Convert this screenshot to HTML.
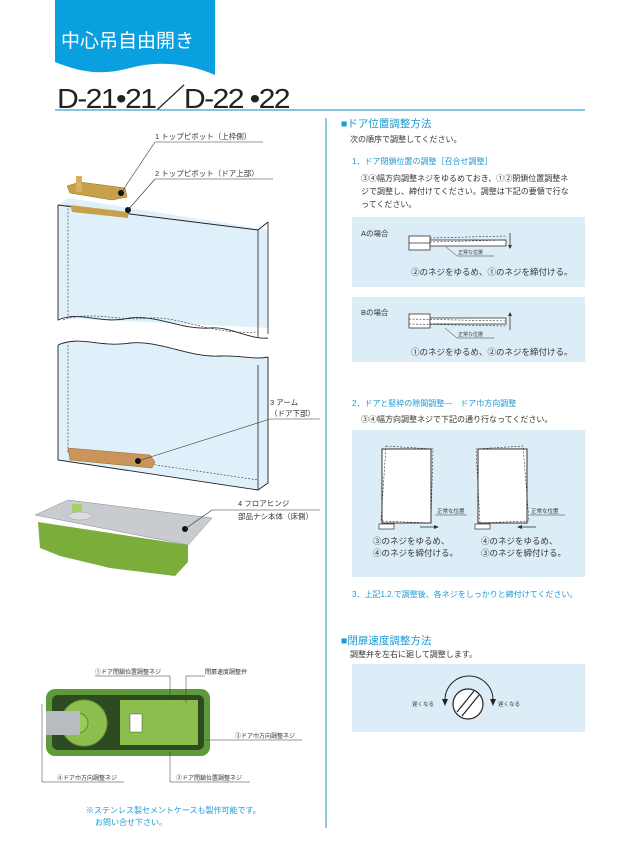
<!DOCTYPE html>
<html><head><meta charset="utf-8"><style>
html,body{margin:0;padding:0;background:#fff;}
svg{display:block;}
text{font-family:"Liberation Sans","Noto Sans CJK JP",sans-serif;}
</style></head><body>
<svg width="629" height="844" viewBox="0 0 629 844" xmlns="http://www.w3.org/2000/svg">
<!-- header tab -->
<path d="M55 0 H215 V75 C190 64 160 60 130 68 C100 76 80 72 55 62 Z" fill="#0aa0e0"/>
<text x="61" y="47" font-size="19" fill="#fff">中心吊自由開き</text>
<text x="57" y="108" font-size="28" fill="#222" letter-spacing="-1.5" textLength="232" lengthAdjust="spacingAndGlyphs">D-21•21／D-22 •22</text>
<line x1="55" y1="110" x2="585" y2="110" stroke="#3aa0c8" stroke-width="1.2"/>
<line x1="326" y1="118" x2="326" y2="828" stroke="#8cc8e0" stroke-width="2"/>

<!-- right column -->
<text x="341" y="127" font-size="10.5" fill="#1a9ad6">■ドア位置調整方法</text>
<text x="350" y="142" font-size="8" fill="#333">次の順序で調整してください。</text>
<text x="352" y="164" font-size="8" fill="#1a9ad6">1．ドア閉鎖位置の調整［召合せ調整］</text>
<text x="361" y="181" font-size="8" fill="#333">③④幅方向調整ネジをゆるめておき、①②閉鎖位置調整ネ</text>
<text x="361" y="194" font-size="8" fill="#333">ジで調整し、締付けてください。調整は下記の要領で行な</text>
<text x="361" y="207" font-size="8" fill="#333">ってください。</text>

<rect x="352" y="217" width="233" height="70" fill="#dcedf8"/>
<text x="361" y="236" font-size="7.5" fill="#333">Aの場合</text>
<rect x="409" y="236" width="21" height="14" fill="#fff" stroke="#333" stroke-width="0.8"/>
<line x1="409" y1="243" x2="430" y2="243" stroke="#333" stroke-width="0.8"/>
<rect x="430" y="240" width="76" height="6" fill="#fff" stroke="#333" stroke-width="0.8"/>
<line x1="430" y1="238" x2="506" y2="236" stroke="#333" stroke-width="0.6" stroke-dasharray="2 1.5"/>
<line x1="430" y1="242" x2="506" y2="240" stroke="#333" stroke-width="0.6" stroke-dasharray="2 1.5"/>
<line x1="510" y1="233" x2="510" y2="247" stroke="#333" stroke-width="0.8"/><path d="M508 245 L510 249 L512 245Z" fill="#333"/>
<polyline points="445,246 457,256 494,256" fill="none" stroke="#333" stroke-width="0.5"/>
<text x="458" y="254" font-size="5" fill="#333">正常な位置</text>
<text x="411" y="275" font-size="8.5" fill="#333">②のネジをゆるめ、①のネジを締付ける。</text>

<rect x="352" y="297" width="233" height="65" fill="#dcedf8"/>
<text x="361" y="315" font-size="7.5" fill="#333">Bの場合</text>
<rect x="409" y="314" width="21" height="14" fill="#fff" stroke="#333" stroke-width="0.8"/>
<rect x="430" y="318" width="76" height="6" fill="#fff" stroke="#333" stroke-width="0.8"/>
<line x1="409" y1="319" x2="506" y2="321" stroke="#333" stroke-width="0.6" stroke-dasharray="2 1.5"/>
<line x1="409" y1="324" x2="506" y2="326" stroke="#333" stroke-width="0.6" stroke-dasharray="2 1.5"/>
<line x1="510" y1="314" x2="510" y2="330" stroke="#333" stroke-width="0.8"/><path d="M508 316 L510 312 L512 316Z" fill="#333"/>
<polyline points="445,328 457,338 494,338" fill="none" stroke="#333" stroke-width="0.5"/>
<text x="458" y="336" font-size="5" fill="#333">正常な位置</text>
<text x="411" y="355" font-size="8.5" fill="#333">①のネジをゆるめ、②のネジを締付ける。</text>

<text x="352" y="406" font-size="8" fill="#1a9ad6">2．ドアと竪枠の隙間調整—　ドア巾方向調整</text>
<text x="361" y="422" font-size="8" fill="#333">③④幅方向調整ネジで下記の通り行なってください。</text>
<rect x="352" y="430" width="233" height="147" fill="#dcedf8"/>
<g stroke="#333" fill="#fff">
<rect x="382" y="449" width="49" height="74" stroke-width="1"/>
<path d="M386 446 L433 449 L431 523 L381 521Z" fill="none" stroke-dasharray="2 1.5" stroke-width="0.6"/>
<rect x="379" y="524" width="15" height="5" stroke-width="0.7"/>
<rect x="478" y="449" width="49" height="74" stroke-width="1"/>
<path d="M476 449 L523 446 L529 521 L480 523Z" fill="none" stroke-dasharray="2 1.5" stroke-width="0.6"/>
<rect x="475" y="524" width="15" height="5" stroke-width="0.7"/>
</g>
<line x1="435" y1="515" x2="467" y2="515" stroke="#333" stroke-width="0.5"/>
<text x="437" y="513" font-size="5.5" fill="#333">正常な位置</text>
<line x1="530" y1="515" x2="565" y2="515" stroke="#333" stroke-width="0.5"/>
<text x="531" y="513" font-size="5.5" fill="#333">正常な位置</text>
<line x1="420" y1="527" x2="436" y2="527" stroke="#333" stroke-width="0.8"/><path d="M434 525 L439 527 L434 529Z" fill="#333"/>
<line x1="520" y1="527" x2="536" y2="527" stroke="#333" stroke-width="0.8"/><path d="M522 525 L517 527 L522 529Z" fill="#333"/>
<text x="373" y="544" font-size="8.5" fill="#333">③のネジをゆるめ、</text>
<text x="373" y="556" font-size="8.5" fill="#333">④のネジを締付ける。</text>
<text x="481" y="544" font-size="8.5" fill="#333">④のネジをゆるめ、</text>
<text x="481" y="556" font-size="8.5" fill="#333">③のネジを締付ける。</text>
<text x="352" y="597" font-size="8" fill="#1a9ad6">3．上記1.2.で調整後、各ネジをしっかりと締付けてください。</text>

<text x="341" y="644" font-size="10.5" fill="#1a9ad6">■閉扉速度調整方法</text>
<text x="350" y="657" font-size="8" fill="#333">調整弁を左右に廻して調整します。</text>
<rect x="352" y="664" width="233" height="68" fill="#dcedf8"/>
<circle cx="468" cy="704" r="15" fill="#fff" stroke="#222" stroke-width="1.2"/>
<line x1="457" y1="712" x2="474" y2="691" stroke="#222" stroke-width="1.2"/>
<line x1="462" y1="716" x2="479" y2="695" stroke="#222" stroke-width="1.2"/>
<path d="M445 700 A24 24 0 0 1 493 700" fill="none" stroke="#222" stroke-width="1"/>
<path d="M442 699 L445 706 L448 699Z" fill="#222"/><path d="M490 699 L493 706 L496 699Z" fill="#222"/>
<text x="412" y="706" font-size="5.5" fill="#333">遅くなる</text>
<text x="498" y="706" font-size="5.5" fill="#333">遅くなる</text>

<!-- left column: door -->
<text x="155" y="139" font-size="7.5" fill="#333">1 トップピボット（上枠側）</text>
<line x1="155" y1="142" x2="263" y2="142" stroke="#333" stroke-width="0.6"/>
<text x="155" y="176" font-size="7.5" fill="#333">2 トップピボット（ドア上部）</text>
<line x1="155" y1="179" x2="273" y2="179" stroke="#333" stroke-width="0.6"/>
<path d="M58 205 L68 198 L268 230 L268 328 L58 318Z" fill="#e0f0fb"/>
<path d="M58 205 L258 230 L268 222" fill="none" stroke="#222" stroke-width="1"/>
<path d="M58 205 L58 320 C80 310 100 325 130 318 C160 315 180 330 210 328 C230 326 250 340 268 338" fill="none" stroke="#222" stroke-width="0.9"/>
<line x1="258" y1="230" x2="258" y2="338" stroke="#222" stroke-width="0.8"/>
<line x1="268" y1="222" x2="268" y2="334" stroke="#222" stroke-width="0.8"/>
<path d="M63 320 C90 310 120 322 150 318 C180 316 210 335 258 332" fill="none" stroke="#333" stroke-width="0.6" stroke-dasharray="2 1.5"/>
<line x1="68" y1="205" x2="68" y2="318" stroke="#333" stroke-width="0.6" stroke-dasharray="2 1.5"/>
<path d="M58 345 C80 335 100 348 130 343 C160 340 190 358 220 356 C240 355 255 360 268 357 L268 483 L258 490 L58 460Z" fill="#e0f0fb"/>
<path d="M58 345 C80 335 100 348 130 343 C160 340 190 358 220 356 C240 355 255 360 268 357" fill="none" stroke="#222" stroke-width="0.9"/>
<path d="M58 345 L58 460 L258 490 L268 483 L268 357" fill="none" stroke="#222" stroke-width="0.9"/>
<line x1="258" y1="365" x2="258" y2="490" stroke="#222" stroke-width="0.8"/>
<line x1="68" y1="345" x2="68" y2="452" stroke="#333" stroke-width="0.6" stroke-dasharray="2 1.5"/>
<line x1="68" y1="452" x2="258" y2="480" stroke="#333" stroke-width="0.6" stroke-dasharray="2 1.5"/>
<!-- pivots -->
<path d="M67 186 L80 182 L125 188 L127 197 L112 200 L70 193Z" fill="#c9a04a" stroke="#8a6a2a" stroke-width="0.5"/>
<rect x="76" y="176" width="6" height="16" fill="#d8b060"/>
<path d="M70 205 L128 212 L128 218 L72 212Z" fill="#c9a04a"/>
<circle cx="121" cy="193" r="3" fill="#111"/>
<circle cx="128" cy="210" r="3" fill="#111"/>
<line x1="121" y1="193" x2="155" y2="142" stroke="#333" stroke-width="0.6"/>
<line x1="128" y1="210" x2="155" y2="179" stroke="#333" stroke-width="0.6"/>
<text x="270" y="405" font-size="7.5" fill="#333">3 アーム</text>
<text x="270" y="416" font-size="7.5" fill="#333">（ドア下部）</text>
<line x1="270" y1="419" x2="320" y2="419" stroke="#333" stroke-width="0.6"/>
<path d="M68 448 L150 455 L155 462 L152 468 L70 460Z" fill="#c9955a" stroke="#8a6a2a" stroke-width="0.5"/>
<circle cx="138" cy="461" r="3" fill="#111"/>
<line x1="138" y1="461" x2="270" y2="419" stroke="#333" stroke-width="0.6"/>
<!-- floor hinge -->
<path d="M38 522 L40 548 L60 556 L110 568 L175 576 L188 562 L188 545Z" fill="#7aad3a"/>
<path d="M35 515 L68 500 L212 518 L188 545 Z" fill="#c8ccd0" stroke="#888" stroke-width="0.5"/>
<rect x="72" y="504" width="10" height="10" fill="#a8d06a"/>
<ellipse cx="80" cy="516" rx="12" ry="4" fill="#dcdcdc" stroke="#999" stroke-width="0.5"/>
<circle cx="185" cy="529" r="3" fill="#111"/>
<text x="238" y="506" font-size="7.5" fill="#333">4 フロアヒンジ</text>
<line x1="212" y1="510" x2="320" y2="510" stroke="#333" stroke-width="0.6"/>
<text x="238" y="519" font-size="7.5" fill="#333">部品ナシ本体（床側）</text>
<line x1="185" y1="529" x2="212" y2="510" stroke="#333" stroke-width="0.6"/>
<!-- top view -->
<rect x="46" y="689" width="164" height="67" rx="9" fill="#5e9a3a"/>
<rect x="52" y="695" width="152" height="55" rx="6" fill="#2d4a22"/>
<rect x="120" y="700" width="78" height="45" fill="#8cbf4e"/>
<circle cx="84" cy="723" r="23" fill="#8cbf4e" stroke="#6a9a3a" stroke-width="1"/>
<circle cx="78" cy="723" r="10" fill="#9acb5a" stroke="#5a8a2a" stroke-width="1"/>
<rect x="46" y="711" width="34" height="24" fill="#b8bcc0"/>
<rect x="130" y="714" width="12" height="18" fill="#fff" stroke="#333" stroke-width="0.4"/>
<polyline points="95,676 170,676 170,697" fill="none" stroke="#333" stroke-width="0.5"/>
<text x="95" y="674" font-size="6" fill="#333">①ドア閉鎖位置調整ネジ</text>
<polyline points="205,676 186,676 186,703" fill="none" stroke="#333" stroke-width="0.5"/>
<text x="205" y="674" font-size="6" fill="#333">閉扉速度調整弁</text>
<line x1="205" y1="740" x2="302" y2="740" stroke="#333" stroke-width="0.5"/>
<text x="235" y="738" font-size="6" fill="#333">③ドア巾方向調整ネジ</text>
<polyline points="42,704 42,782 124,782" fill="none" stroke="#333" stroke-width="0.5"/>
<text x="57" y="780" font-size="6" fill="#333">④ドア巾方向調整ネジ</text>
<polyline points="170,752 170,782 250,782" fill="none" stroke="#333" stroke-width="0.5"/>
<text x="176" y="780" font-size="6" fill="#333">②ドア閉鎖位置調整ネジ</text>
<text x="86" y="813" font-size="8" fill="#1a9ad6">※ステンレス製セメントケースも製作可能です。</text>
<text x="95" y="825" font-size="8" fill="#1a9ad6">お問い合せ下さい。</text>
</svg>
</body></html>
